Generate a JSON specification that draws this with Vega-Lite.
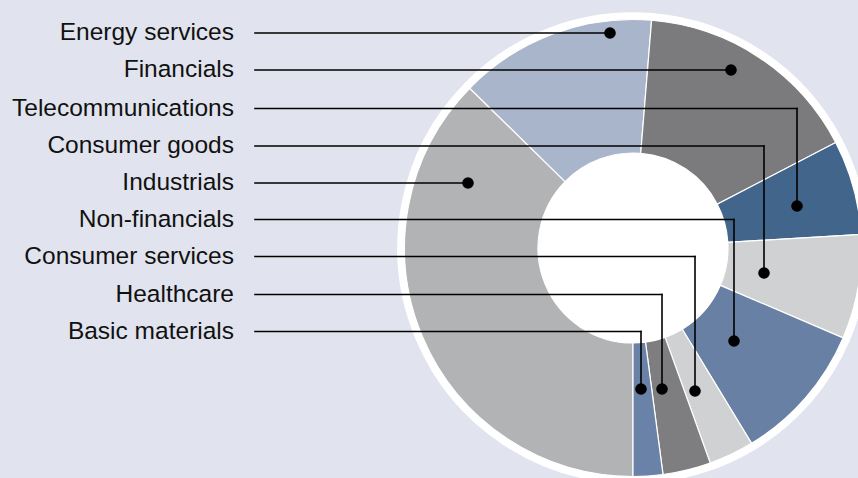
{
  "$schema": "https://vega.github.io/schema/vega-lite/v6.json",
  "width": 858,
  "height": 478,
  "autosize": {"type": "none"},
  "padding": 0,
  "background": "#e1e4ee",
  "config": {"view": {"stroke": null}},
  "datasets": {
    "sectors": [
      {"sector": "Industrials", "share": 37.4, "rank": 1},
      {"sector": "Energy services", "share": 14.0, "rank": 2},
      {"sector": "Financials", "share": 16.1, "rank": 3},
      {"sector": "Telecommunications", "share": 6.7, "rank": 4},
      {"sector": "Consumer goods", "share": 7.4, "rank": 5},
      {"sector": "Non-financials", "share": 9.9, "rank": 6},
      {"sector": "Consumer services", "share": 3.2, "rank": 7},
      {"sector": "Healthcare", "share": 3.4, "rank": 8},
      {"sector": "Basic materials", "share": 2.1, "rank": 9}
    ],
    "leaders": [
      {"sector": "Energy services", "start_x": -378, "label_y": 215, "hook_x": -23, "dot_y": 215},
      {"sector": "Financials", "start_x": -378, "label_y": 178, "hook_x": 98, "dot_y": 178},
      {"sector": "Telecommunications", "start_x": -378, "label_y": 139.5, "hook_x": 164, "dot_y": 42},
      {"sector": "Consumer goods", "start_x": -378, "label_y": 102, "hook_x": 131, "dot_y": -25},
      {"sector": "Industrials", "start_x": -378, "label_y": 65, "hook_x": -165, "dot_y": 65},
      {"sector": "Non-financials", "start_x": -378, "label_y": 28.5, "hook_x": 101, "dot_y": -93},
      {"sector": "Consumer services", "start_x": -378, "label_y": -8.5, "hook_x": 62, "dot_y": -143},
      {"sector": "Healthcare", "start_x": -378, "label_y": -46.5, "hook_x": 29, "dot_y": -141},
      {"sector": "Basic materials", "start_x": -378, "label_y": -83.5, "hook_x": 8, "dot_y": -141}
    ]
  },
  "layer": [
    {
      "data": {"name": "sectors"},
      "mark": {"type": "arc", "radius": 235, "radius2": 0, "fill": "#ffffff", "stroke": "#ffffff", "strokeWidth": 1.5, "x": {"expr": "scale('x', 0)"}, "y": {"expr": "scale('y', 0)"}},
      "encoding": {
        "theta": {"field": "share", "type": "quantitative", "stack": true, "scale": {"range": [3.14159265, 9.42477796]}},
        "order": {"field": "rank", "type": "quantitative"}
      }
    },
    {
      "data": {"name": "sectors"},
      "mark": {"type": "arc", "radius": 228.5, "radius2": 95, "stroke": "#ffffff", "strokeWidth": 1.2, "x": {"expr": "scale('x', 0)"}, "y": {"expr": "scale('y', 0)"}},
      "encoding": {
        "theta": {"field": "share", "type": "quantitative", "stack": true},
        "order": {"field": "rank", "type": "quantitative"},
        "color": {
          "field": "sector", "type": "nominal", "legend": null,
          "scale": {
            "domain": ["Industrials", "Energy services", "Financials", "Telecommunications", "Consumer goods", "Non-financials", "Consumer services", "Healthcare", "Basic materials"],
            "range": ["#b2b3b5", "#a9b5ca", "#7b7b7d", "#42658c", "#d0d1d3", "#6880a3", "#d0d1d3", "#7e7e80", "#6a82a8"]
          }
        }
      }
    },
    {
      "data": {"name": "leaders"},
      "mark": {"type": "rule", "color": "#000000", "strokeWidth": 1.6, "strokeCap": "square"},
      "encoding": {
        "x": {"field": "start_x", "type": "quantitative", "scale": {"domain": [-633, 225], "nice": false, "zero": false}, "axis": null},
        "x2": {"field": "hook_x"},
        "y": {"field": "label_y", "type": "quantitative", "scale": {"domain": [-230, 248], "nice": false, "zero": false}, "axis": null}
      }
    },
    {
      "data": {"name": "leaders"},
      "mark": {"type": "rule", "color": "#000000", "strokeWidth": 1.6, "strokeCap": "square"},
      "encoding": {
        "x": {"field": "hook_x", "type": "quantitative"},
        "y": {"field": "label_y", "type": "quantitative"},
        "y2": {"field": "dot_y"}
      }
    },
    {
      "data": {"name": "leaders"},
      "mark": {"type": "point", "filled": true, "color": "#000000", "opacity": 1, "size": 135},
      "encoding": {
        "x": {"field": "hook_x", "type": "quantitative"},
        "y": {"field": "dot_y", "type": "quantitative"}
      }
    },
    {
      "data": {"name": "leaders"},
      "mark": {"type": "text", "align": "right", "baseline": "middle", "dx": -21, "font": "Liberation Sans", "fontSize": 24.5, "color": "#111111"},
      "encoding": {
        "x": {"field": "start_x", "type": "quantitative"},
        "y": {"field": "label_y", "type": "quantitative"},
        "text": {"field": "sector"}
      }
    }
  ]
}
